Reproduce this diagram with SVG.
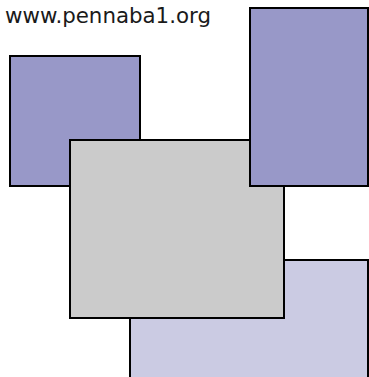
<svg xmlns="http://www.w3.org/2000/svg" width="369" height="377" viewBox="0 0 369 377">
<style>
.box{stroke:#000;stroke-width:2}
.blue{fill:#9898C8}
.gray{fill:#CBCBCB}
.light{fill:#CBCBE3}
text{font-family:"DejaVu Sans",sans-serif;font-size:21px;fill:#1a1a1a}
</style>
<rect width="369" height="377" fill="#fff"/>
<text x="5" y="23" textLength="206" lengthAdjust="spacingAndGlyphs">www.pennaba1.org</text>
<g id="light-box"><rect class="box light" x="130" y="260" width="238" height="118"/></g>
<g id="left-box"><rect class="box blue" x="10" y="56" width="130" height="130"/></g>
<g id="gray-box"><rect class="box gray" x="70" y="140" width="214" height="178"/></g>
<g id="right-box"><rect class="box blue" x="250" y="8" width="118" height="178"/></g>
<g id="connectors"></g>
</svg>
